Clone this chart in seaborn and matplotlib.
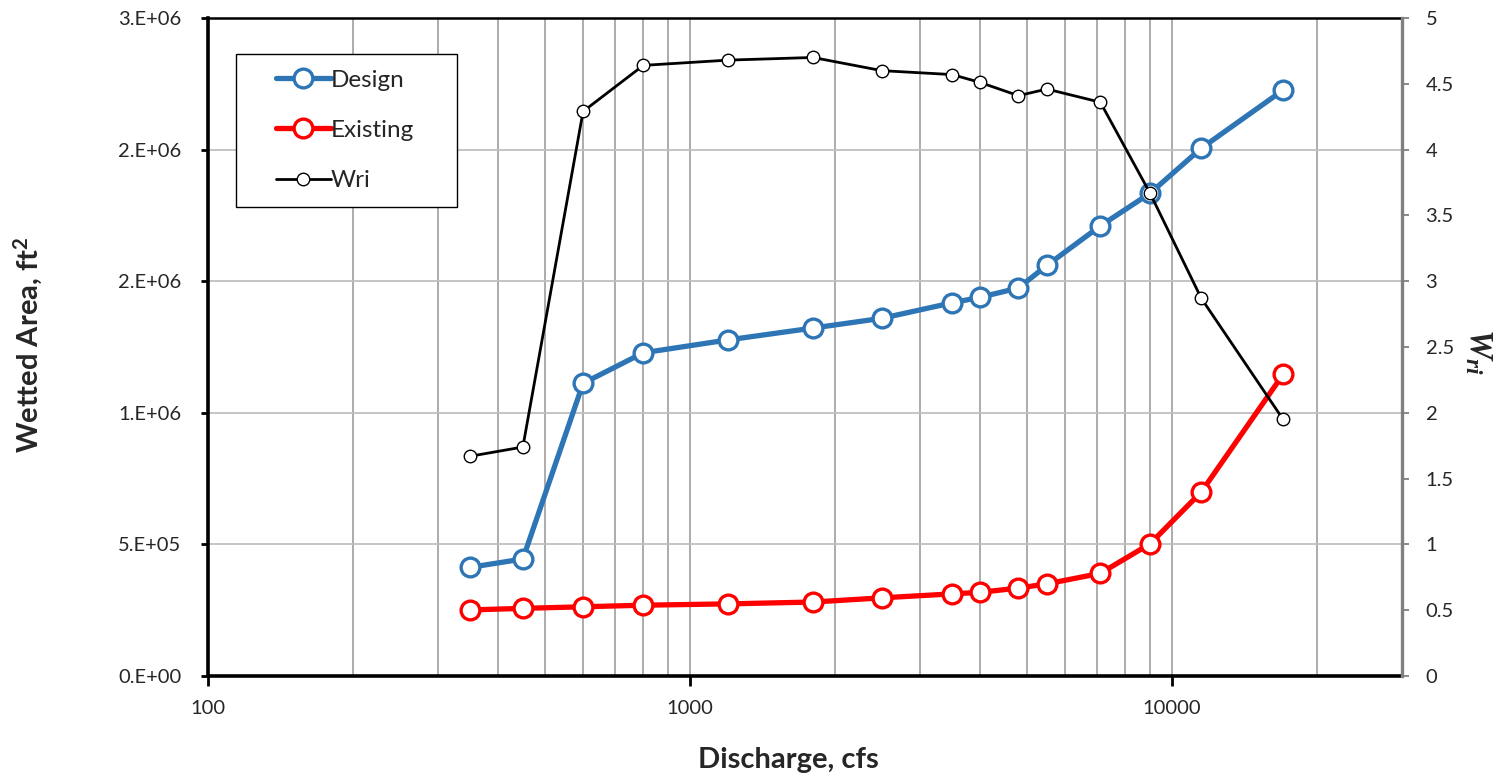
import matplotlib
matplotlib.use("Agg")
import matplotlib.pyplot as plt
import pandas as pd
import seaborn as sns
from matplotlib.legend_handler import HandlerLine2D
from matplotlib.ticker import FixedLocator, FixedFormatter, LogLocator, NullFormatter

# Discharge (cfs) shared by all three series
discharge = [350, 450, 600, 800, 1200, 1800, 2500, 3500, 4000, 4800, 5500, 7100, 9000, 11500, 17000]

# Wetted area, ft^2
design_area = [413000, 444500, 1112000, 1228000, 1277000, 1322000, 1359000, 1418000,
               1439000, 1474000, 1560000, 1710000, 1834000, 2005000, 2226000]
existing_area = [251000, 257000, 263000, 269000, 274000, 281000, 297000, 312000,
                 318000, 334000, 350000, 390000, 502000, 699000, 1146000]

# Wetted-area ratio W_ri (right axis)
wri = [1.67, 1.74, 4.29, 4.64, 4.68, 4.70, 4.60, 4.57, 4.51, 4.41, 4.46, 4.36, 3.67, 2.87, 1.95]

area_ticks = [0, 500000, 1000000, 1500000, 2000000, 2500000]
area_tick_labels = ["0.E+00", "5.E+05", "1.E+06", "2.E+06", "2.E+06", "3.E+06"]
wri_ticks = [0, 0.5, 1, 1.5, 2, 2.5, 3, 3.5, 4, 4.5, 5]
wri_tick_labels = ["0", "0.5", "1", "1.5", "2", "2.5", "3", "3.5", "4", "4.5", "5"]
x_ticks = [100, 1000, 10000]
x_tick_labels = ["100", "1000", "10000"]

df = pd.DataFrame({"Q": discharge, "Design": design_area,
                   "Existing": existing_area, "Wri": wri})

sns.set_style("white")
plt.rcParams["font.family"] = ["Lato", "DejaVu Sans"]
plt.rcParams["mathtext.fontset"] = "custom"
plt.rcParams["mathtext.it"] = "Liberation Serif:italic:bold"
plt.rcParams["mathtext.rm"] = "Liberation Serif:bold"


class IndentedLineHandler(HandlerLine2D):
    """Legend line handle drawn in the right part of its box, leaving a left indent."""

    def __init__(self, indent_px, **kw):
        super().__init__(**kw)
        self.indent_px = indent_px

    def create_artists(self, legend, orig_handle, xdescent, ydescent, width, height,
                       fontsize, trans):
        off = self.indent_px * 72.0 / legend.figure.dpi
        return super().create_artists(legend, orig_handle, xdescent - off, ydescent,
                                      width - off, height, fontsize, trans)


W, H = 1505, 778
fig = plt.figure(figsize=(W / 100, H / 100), dpi=100)
x0, x1, ytop, ybot = 208, 1402, 18, 676
ax = fig.add_axes([x0 / W, (H - ybot) / H, (x1 - x0) / W, (ybot - ytop) / H])
ax2 = ax.twinx()

blue = "#2E75B6"
red = "#FF0000"

sns.lineplot(data=df, x="Q", y="Design", ax=ax, color=blue, linewidth=3.8,
             marker="o", markersize=13.5, markerfacecolor="white",
             markeredgecolor=blue, markeredgewidth=2.4, label="Design", zorder=3)
sns.lineplot(data=df, x="Q", y="Existing", ax=ax, color=red, linewidth=3.8,
             marker="o", markersize=13.5, markerfacecolor="white",
             markeredgecolor=red, markeredgewidth=2.4, label="Existing", zorder=3)
sns.lineplot(data=df, x="Q", y="Wri", ax=ax2, color="black", linewidth=2.0,
             marker="o", markersize=9, markerfacecolor="white",
             markeredgecolor="black", markeredgewidth=1.0, label="Wri", zorder=3)

# Axes scales and limits
ax.set_xscale("log")
ax.set_xlim(100, 30000)
ax.set_ylim(0, 2500000)
ax2.set_ylim(0, 5)

# Gridlines: horizontal at area ticks, vertical at every log tick
ax.set_axisbelow(True)
ax.yaxis.set_major_locator(FixedLocator(area_ticks))
ax.yaxis.set_major_formatter(FixedFormatter(area_tick_labels))
ax.xaxis.set_major_locator(FixedLocator(x_ticks))
ax.xaxis.set_major_formatter(FixedFormatter(x_tick_labels))
ax.xaxis.set_minor_locator(LogLocator(base=10, subs=range(2, 10), numticks=20))
ax.xaxis.set_minor_formatter(NullFormatter())
ax.grid(True, axis="y", which="major", color="#BFBFBF", linewidth=1.3)
ax.grid(True, axis="x", which="both", color="#A6A6A6", linewidth=1.3)

ax2.yaxis.set_major_locator(FixedLocator(wri_ticks))
ax2.yaxis.set_major_formatter(FixedFormatter(wri_tick_labels))
ax2.grid(False)

ax.tick_params(axis="y", which="major", direction="out", length=5, width=2,
               color="black", labelsize=14.5, pad=14, left=True)
ax.tick_params(axis="x", which="major", direction="out", length=7, width=2,
               color="black", labelsize=14.5, pad=10, bottom=True)
ax.tick_params(axis="x", which="minor", length=0)
ax2.tick_params(axis="y", direction="out", length=5, width=1.3, color="#808080",
                labelsize=14.5, pad=12, right=True)

for side in ["left", "bottom"]:
    ax.spines[side].set_linewidth(2.6)
    ax.spines[side].set_color("black")
ax.spines["top"].set_linewidth(1.8)
ax.spines["top"].set_color("black")
ax.spines["right"].set_visible(False)
for side in ["left", "bottom", "top"]:
    ax2.spines[side].set_visible(False)
ax2.spines["right"].set_linewidth(2.4)
ax2.spines["right"].set_color("#808080")

ax.set_xlabel("")
ax.set_ylabel("")
ax2.set_ylabel("")

fig.text(788 / W, 1 - 760 / H, "Discharge, cfs", ha="center", va="center",
         fontsize=21, fontweight="bold")
fig.text(29 / W, 1 - 345 / H, "Wetted Area, ft$^\\mathregular{2}$", ha="center", va="center",
         rotation=90, fontsize=21, fontweight="bold")
fig.text(1478 / W, 1 - 352 / H, r"$W_{ri}$", ha="center", va="center",
         rotation=-90, fontsize=24)

# Combined legend drawn on the top axes
h1, l1 = ax.get_legend_handles_labels()
h2, l2 = ax2.get_legend_handles_labels()
if ax.get_legend() is not None:
    ax.get_legend().remove()
if ax2.get_legend() is not None:
    ax2.get_legend().remove()
leg_w = 221 / (x1 - x0)
leg = ax2.legend(h1 + h2, l1 + l2, loc="upper left", mode="expand",
                 bbox_to_anchor=((236 - x0) / (x1 - x0), (ybot - 54) / (ybot - ytop), leg_w, 0),
                 borderaxespad=0, frameon=True, fancybox=False, framealpha=1,
                 edgecolor="black", fontsize=17.5, handlelength=3.25, handletextpad=0.0,
                 labelspacing=1.2, borderpad=0.65,
                 handler_map={h: IndentedLineHandler(24) for h in h1 + h2})
leg.get_frame().set_linewidth(1.0)

fig.savefig("out.png", dpi=100)
